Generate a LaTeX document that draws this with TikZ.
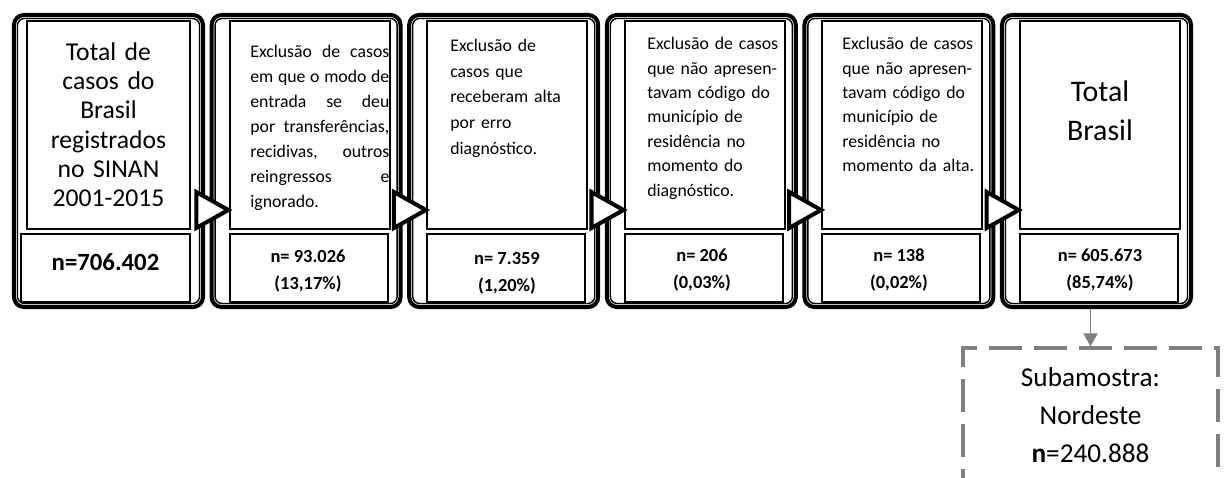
\documentclass[tikz,border=0pt]{standalone}
\usepackage{fontspec}
\setmainfont{Carlito}
\usepackage{tikz}
\usetikzlibrary{arrows.meta,calc}
\definecolor{subGray}{RGB}{127,127,127}

\begin{document}
\begin{tikzpicture}[x=0.2mm,y=-0.2mm,
  stage/.style={draw,line width=2.3pt,rounded corners=2mm,minimum width=37.8mm,minimum height=58.4mm,inner sep=0pt},
  stageline/.style={line width=0.8pt,rounded corners=1.4mm},
  infobox/.style={draw,line width=1.1pt,minimum width=32mm,minimum height=41.6mm,inner sep=0pt},
  countbox/.style={draw,line width=1.1pt,minimum width=31.6mm,minimum height=13.6mm,inner sep=0pt},
  desc/.style={inner sep=0pt,anchor=north west,text width=27.8mm,align=left,font=\fontsize{10.1}{13.9}\selectfont},
  title/.style={inner sep=0pt,anchor=north,text width=32mm,align=center},
  count/.style={inner sep=0pt,align=center,font=\bfseries\fontsize{10.5}{15.3}\selectfont},
  chevron/.style={draw,fill=white,line width=2.3pt,line join=miter},
  subbox/.style={draw=subGray,line width=1.8pt,dash pattern=on 6.6mm off 2.4mm,minimum width=51mm,minimum height=26.8mm,align=center,font=\fontsize{15.5}{21.5}\selectfont},
  subarrow/.style={draw=subGray,line width=1.1pt,-{Triangle[width=2.8mm,length=2.6mm]}}]
 \useasboundingbox (0,0) rectangle (1226,477);
 \clip (0,0) rectangle (1226,477);
 % outer frames
 \node[stage] (o1) at (108.5,161) {};
 \node[stage] (o2) at (306.1,161) {};
 \node[stage] (o3) at (503.7,161) {};
 \node[stage] (o4) at (701.3,161) {};
 \node[stage] (o5) at (898.9,161) {};
 \node[stage] (o6) at (1096.5,161) {};
 \draw[stageline] ($(o1.north west)+(5.5,5.5)$) rectangle ($(o1.south east)-(5.5,5.5)$);
 \draw[stageline] ($(o2.north west)+(5.5,5.5)$) rectangle ($(o2.south east)-(5.5,5.5)$);
 \draw[stageline] ($(o3.north west)+(5.5,5.5)$) rectangle ($(o3.south east)-(5.5,5.5)$);
 \draw[stageline] ($(o4.north west)+(5.5,5.5)$) rectangle ($(o4.south east)-(5.5,5.5)$);
 \draw[stageline] ($(o5.north west)+(5.5,5.5)$) rectangle ($(o5.south east)-(5.5,5.5)$);
 \draw[stageline] ($(o6.north west)+(5.5,5.5)$) rectangle ($(o6.south east)-(5.5,5.5)$);
 % inner boxes
 \node[infobox,minimum width=32.6mm] (t1) at (108.5,125) {};
 \node[infobox] (t2) at (309.6,125) {};
 \node[infobox] (t3) at (507.2,125) {};
 \node[infobox] (t4) at (704.8,125) {};
 \node[infobox] (t5) at (902.4,125) {};
 \node[infobox] (t6) at (1100,125) {};
 \node[countbox,minimum width=33.8mm] (n1) at (105.5,268) {};
 \node[countbox] (n2) at (308.6,268) {};
 \node[countbox] (n3) at (506.2,268) {};
 \node[countbox] (n4) at (703.8,268) {};
 \node[countbox] (n5) at (901.4,268) {};
 \node[countbox] (n6) at (1099,268) {};
 % chevrons
 \draw[chevron] ($(o1.east)!.5!(o2.west)+(-11,31)$) -- ++(32,18) -- ++(-32,18) -- cycle;
 \draw[chevron] ($(o2.east)!.5!(o3.west)+(-11,31)$) -- ++(32,18) -- ++(-32,18) -- cycle;
 \draw[chevron] ($(o3.east)!.5!(o4.west)+(-11,31)$) -- ++(32,18) -- ++(-32,18) -- cycle;
 \draw[chevron] ($(o4.east)!.5!(o5.west)+(-11,31)$) -- ++(32,18) -- ++(-32,18) -- cycle;
 \draw[chevron] ($(o5.east)!.5!(o6.west)+(-11,31)$) -- ++(32,18) -- ++(-32,18) -- cycle;
 % texts
 \node[title,font=\fontsize{14.6}{16.7}\selectfont] (d1) at (108.5,42)
   {Total de\\casos do\\Brasil\\registrados\\no SINAN\\2001-2015};
 \node[desc,align=justify,font=\fontsize{10.1}{14.2}\selectfont] (d2) at (250,45)
   {Exclusão de casos\linebreak em que o modo de\linebreak entrada se deu\linebreak por transferências,\linebreak recidivas, outros\linebreak reingressos e\linebreak ignorado.};
 \node[desc,font=\fontsize{10.1}{14.6}\selectfont] (d3) at (450,39) {Exclusão de\\casos que\\receberam alta\\por erro\\diagnóstico.};
 \node[desc] (d4) at (647,37) {Exclusão de casos\\que não apresen-\\tavam código do\\município de\\residência no\\momento do\\diagnóstico.};
 \node[desc] (d5) at (842,37) {Exclusão de casos\\que não apresen-\\tavam código do\\município de\\residência no\\momento da alta.};
 \node[title,font=\fontsize{17}{22.7}\selectfont] (d6) at (1100,80) {Total\\Brasil};
 \node[count,font=\bfseries\fontsize{14.1}{16}\selectfont] (c1) at (105.5,262) {n=706.402};
 \node[count] (c2) at (308,271) {n= 93.026\\(13,17\%)};
 \node[count] (c3) at (507,273) {n= 7.359\\(1,20\%)};
 \node[count] (c4) at (702,270) {n= 206\\(0,03\%)};
 \node[count] (c5) at (899,270) {n= 138\\(0,02\%)};
 \node[count] (c6) at (1100,270) {n= 605.673\\(85,74\%)};
 % subsample
 \node[subbox] (sub) at (1090.5,415) {Subamostra:\\Nordeste\\\textbf{n}=240.888};
 \draw[subarrow] (sub.north |- o6.south) -- (sub.north);
\end{tikzpicture}
\end{document}
